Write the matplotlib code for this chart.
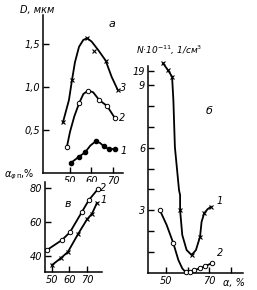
import matplotlib
matplotlib.use("Agg")
import matplotlib.pyplot as plt

W, H = 257, 290

# ---------- data: panel а (D, мкм vs α, %) ----------
# markers
a3_x = [46.7, 50.9, 58.0, 61.2, 66.6, 72.2]
a3_y = [0.59, 1.08, 1.57, 1.42, 1.31, 0.97]
a2_x = [48.5, 54.2, 58.5, 63.6, 67.3, 70.9]
a2_y = [0.30, 0.81, 0.96, 0.85, 0.78, 0.64]
a1_x = [50.5, 54.2, 57.0, 62.0, 65.8, 68.0, 71.0]
a1_y = [0.12, 0.19, 0.24, 0.37, 0.31, 0.28, 0.28]
# curves
a3_line_x = [46.7, 49.5, 50.9, 52.3, 54.2, 56.2, 58.0, 60.1, 63.2, 66.6, 69.4, 72.2]
a3_line_y = [0.59, 0.85, 1.08, 1.29, 1.47, 1.55, 1.57, 1.53, 1.43, 1.31, 1.12, 0.97]
a2_line_x = [48.5, 50.0, 52.0, 54.2, 56.2, 58.5, 60.8, 63.6, 67.3, 70.9]
a2_line_y = [0.30, 0.48, 0.66, 0.81, 0.92, 0.96, 0.94, 0.85, 0.78, 0.64]
a1_line_x = [50.5, 54.2, 57.0, 59.5, 62.0, 64.0, 65.8, 68.0, 71.0]
a1_line_y = [0.12, 0.19, 0.24, 0.32, 0.37, 0.35, 0.31, 0.28, 0.28]
a_yticks = [0.5, 1.0, 1.5]
a_yticklabels = ["0,5", "1,0", "1,5"]
a_xticks = [50, 60, 70]
a_xticklabels = ["50", "60", "70"]

# ---------- data: panel в (α_фп, % vs α, %) ----------
v2_x = [47.1, 55.7, 60.3, 67.1, 71.1, 76.3]
v2_y = [43.5, 49.4, 54.0, 65.9, 72.9, 79.4]
v1_x = [50.0, 55.1, 59.1, 64.9, 70.0, 72.9, 75.7]
v1_y = [34.7, 38.8, 42.4, 52.9, 61.5, 64.9, 71.2]
v_yticks = [40, 60, 80]
v_xticks = [50, 60, 70]

# ---------- data: panel б (N·10^-11 vs α, %) ----------
b1_x = [48.6, 51.0, 52.8, 56.5, 61.8, 65.7, 67.6, 70.7]
b1_y = [10.05, 9.7, 9.4, 3.0, 0.86, 1.74, 2.86, 3.17]
b1_line_x = [48.6, 51.0, 52.8, 53.4, 54.1, 56.0, 56.5, 56.5, 57.5, 59.5, 61.8, 63.8, 65.7, 66.4, 67.6, 69.2, 70.7]
b1_line_y = [10.05, 9.7, 9.4, 8.28, 6.03, 3.97, 3.73, 3.0, 1.82, 1.1, 0.86, 1.1, 1.74, 2.45, 2.86, 3.06, 3.17]
b2_x = [47.2, 53.4, 59.1, 61.0, 63.0, 65.7, 68.0, 71.0]
b2_y = [3.0, 1.42, 0.03, 0.05, 0.14, 0.22, 0.33, 0.46]
b2_line_x = [47.2, 50.3, 53.4, 55.7, 57.5, 59.1, 61.0, 63.0, 65.7, 68.0, 71.0]
b2_line_y = [3.0, 2.3, 1.42, 0.62, 0.22, 0.03, 0.05, 0.14, 0.22, 0.33, 0.46]
b_yticks = [1, 2, 3, 4, 5, 6, 7, 8, 9, 9.65]
b_yticklabels = ["", "", "3", "", "", "6", "", "", "9", "19"]
b_xticks = [50, 60, 70, 80]
b_xticklabels = ["50", "", "70", ""]

FS = 7
fig = plt.figure(figsize=(W / 100, H / 100), dpi=100)


def box(l, r, t, b):
    return [l / W, 1 - b / H, (r - l) / W, (b - t) / H]


def style(ax):
    for s in ("top", "right"):
        ax.spines[s].set_visible(False)
    for s in ("left", "bottom"):
        ax.spines[s].set_linewidth(1.1)
    ax.tick_params(direction="in", length=4, width=1, labelsize=FS, pad=2)
    for lab in ax.get_xticklabels() + ax.get_yticklabels():
        lab.set_fontstyle("italic")


lw = 1.3
mx = dict(ls="none", marker="x", ms=3.5, mew=0.8, color="k", clip_on=False)
mo = dict(ls="none", marker="o", ms=3.2, mew=0.7, mfc="white", color="k", clip_on=False, zorder=3)
md = dict(ls="none", marker="o", ms=3.0, mfc="k", color="k", clip_on=False)
ln = dict(color="k", lw=lw, clip_on=False)

# ---- panel а ----
axa = fig.add_axes(box(43, 123, 15, 173))
axa.plot(a3_line_x, a3_line_y, **ln)
axa.plot(a3_x, a3_y, **mx)
axa.plot(a2_line_x, a2_line_y, **ln)
axa.plot(a2_x, a2_y, **mo)
axa.plot(a1_line_x, a1_line_y, **ln)
axa.plot(a1_x, a1_y, **md)
axa.set_xlim(37.4, 74.7)
axa.set_ylim(0, 1.84)
axa.set_yticks(a_yticks, a_yticklabels)
axa.set_xticks(a_xticks, a_xticklabels)
style(axa)
axa.text(73.5, 0.95, "3", fontsize=FS, style="italic")
axa.text(72.6, 0.60, "2", fontsize=FS, style="italic")
axa.text(73.5, 0.22, "1", fontsize=FS, style="italic")
axa.text(68.0, 1.70, "а", fontsize=FS + 1, style="italic")
fig.text(20 / W, 1 - 10 / H, "D, мкм", fontsize=FS, style="italic", va="center")

# ---- panel в ----
axv = fig.add_axes(box(45, 102, 182, 272))
axv.plot(v2_x, v2_y, **ln)
axv.plot(v2_x, v2_y, **mo)
axv.plot(v1_x, v1_y, **ln)
axv.plot(v1_x, v1_y, **mx)
axv.set_xlim(46, 78.6)
axv.set_ylim(30.6, 83.5)
axv.set_yticks(v_yticks)
axv.set_xticks(v_xticks)
style(axv)
axv.text(57.0, 69.0, "в", fontsize=FS + 1, style="italic")
axv.text(77.5, 78.0, "2", fontsize=FS, style="italic")
axv.text(77.5, 71.0, "1", fontsize=FS, style="italic")
fig.text(4 / W, 1 - 175 / H, r"$\alpha_{\varphi\,\rm п}$,%", fontsize=FS, va="center")

# ---- panel б ----
axb = fig.add_axes(box(148, 243, 60, 273))
axb.plot(b1_line_x, b1_line_y, **ln)
axb.plot(b1_x, b1_y, **mx)
axb.plot(b2_line_x, b2_line_y, **ln)
axb.plot(b2_x, b2_y, **mo)
axb.set_xlim(41.7, 85.5)
axb.set_ylim(0, 10.2)
axb.spines["left"].set_bounds(0, 9.9)
axb.set_yticks(b_yticks, b_yticklabels)
axb.set_xticks(b_xticks, b_xticklabels)
style(axb)
axb.text(73.5, 3.3, "1", fontsize=FS, style="italic")
axb.text(73.5, 0.8, "2", fontsize=FS, style="italic")
axb.text(68.5, 7.6, "б", fontsize=FS + 1, style="italic")
axb.text(76.5, -0.22, "α, %", fontsize=FS, style="italic", va="top")
fig.text(136 / W, 1 - 50 / H, "N·10$^{-11}$, 1/см$^3$", fontsize=FS - 0.5, style="italic", va="center")

fig.savefig("out.png", dpi=100)
